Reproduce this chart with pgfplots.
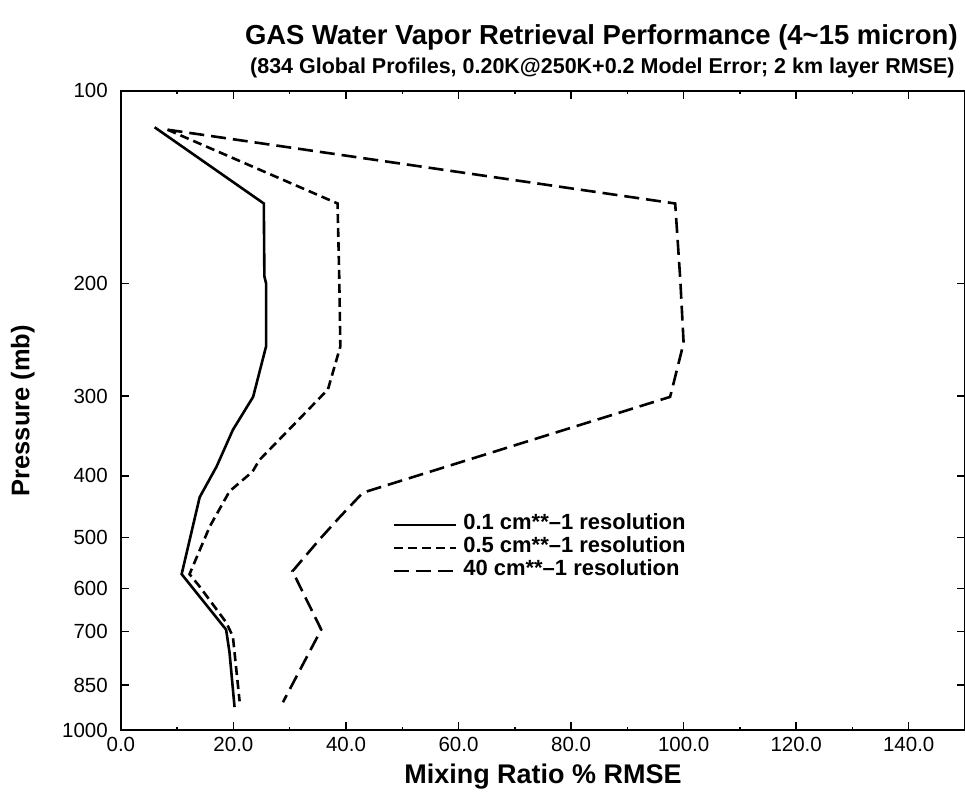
\documentclass[border=0pt]{standalone}
\usepackage{fontspec}
\setmainfont{Liberation Sans}
\usepackage{pgfplots}
\pgfplotsset{compat=1.18}

% Retrieval error profiles: x = mixing ratio RMSE (%), y = pressure (mb)
\pgfplotstableread{
x     p
6.0   114
25.4  150
25.5  195
25.8  200
25.8  251
23.5  301
19.9  339
17.0  387
14.0  432
10.8  570
18.7  696
19.3  755
20.2  920
}\resA

\pgfplotstableread{
x     p
8.3   115
38.5  150
38.8  195
39.0  251
36.8  293
31.7  326
24.6  378
23.4  394
19.3  423
15.8  480
12.2  570
14.0  596
18.7  678
19.9  713
21.1  901
}\resB

\pgfplotstableread{
x     p
8.3   115
98.5  150
99.4  197
100.0 248
97.6  301
43.0  425
38.8  465
35.3  503
30.5  564
35.6  696
28.8  904
}\resC

\begin{document}
\begin{tikzpicture}
\begin{axis}[
  at={(0pt,0pt)}, anchor=south west,
  scale only axis, width=845pt, height=640pt,
  xmin=0, xmax=150, ymin=100, ymax=1000,
  ymode=log, y dir=reverse,
  xtick={0,20,...,140},
  xticklabels={0.0,20.0,40.0,60.0,80.0,100.0,120.0,140.0},
  minor x tick num=1,
  ytick={100,200,300,400,500,600,700,850,1000},
  yticklabels={100,200,300,400,500,600,700,850,1000},
  yminorticks=false,
  tick align=inside,
  major tick length=8pt, minor tick length=3pt,
  tick style={black, line width=1.4pt},
  axis line style={line width=1.6pt},
  ticklabel style={font=\fontsize{20.5}{24}\selectfont, inner sep=0pt},
  xticklabel style={yshift=-7pt},
  yticklabel style={xshift=-13pt},
  xlabel={Mixing Ratio \% RMSE},
  ylabel={Pressure (mb)},
  every axis x label/.style={at={(axis description cs:0.5,-0.052)}, anchor=north,
    inner sep=0pt, font=\bfseries\fontsize{27}{32}\selectfont},
  every axis y label/.style={at={(axis description cs:-0.1018,0.5)}, rotate=90,
    anchor=south, inner sep=0pt, font=\bfseries\fontsize{25.5}{30}\selectfont},
  legend style={at={(axis description cs:0.3219,0.336)}, anchor=north west,
    draw=none, fill=none, inner sep=0pt, row sep=4pt, column sep=6pt,
    font=\bfseries\fontsize{22}{26}\selectfont,
    nodes={inner sep=0pt, text height=14pt, text depth=5pt}},
  legend cell align=left,
  legend image code/.code={\draw[#1] (0pt,0pt) -- (62pt,0pt);},
]
\addplot[black, line width=2.6pt] table[x=x, y=p] {\resA};
\addlegendentry{0.1 cm**–1 resolution}
\addplot[black, line width=2.6pt, dash pattern=on 9pt off 5pt] table[x=x, y=p] {\resB};
\addlegendentry{0.5 cm**–1 resolution}
\addplot[black, line width=2.6pt, dash pattern=on 15pt off 7pt] table[x=x, y=p] {\resC};
\addlegendentry{40 cm**–1 resolution}
\end{axis}
\node[anchor=base, font=\bfseries\fontsize{27.5}{32}\selectfont] at (481pt,686pt)
  {GAS Water Vapor Retrieval Performance (4\textasciitilde 15 micron)};
\node[anchor=base, font=\bfseries\fontsize{21.5}{26}\selectfont] at (482pt,657pt)
  {(834 Global Profiles, 0.20K@250K+0.2 Model Error; 2 km layer RMSE)};
\pgfresetboundingbox
\useasboundingbox (-121pt,-63pt) rectangle (845pt,731pt);
\end{tikzpicture}
\end{document}
